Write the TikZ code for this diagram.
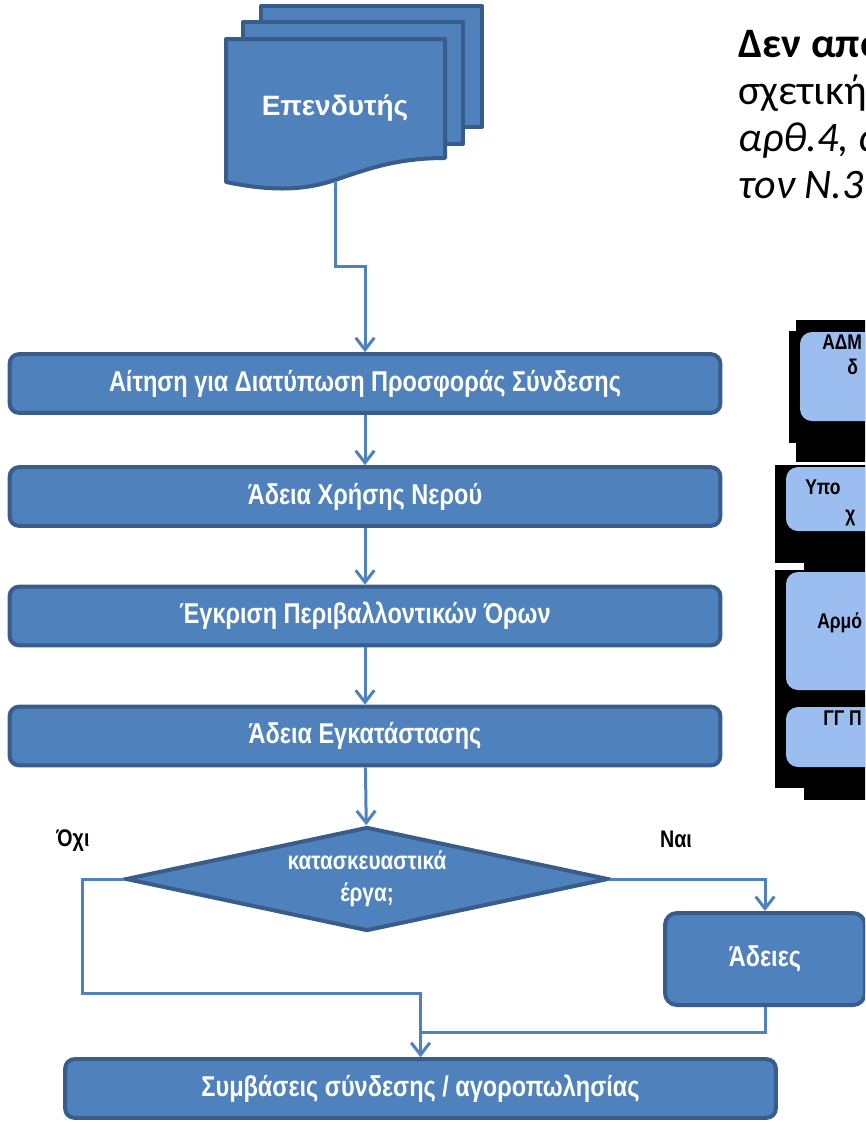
\documentclass[tikz,border=0pt]{standalone}
\usepackage{fontspec}
\setmainfont{Liberation Sans}
\newfontfamily\narrowfont[FakeStretch=0.82]{Liberation Sans}
\newfontfamily\notefont{Carlito}
\usetikzlibrary{shapes.geometric,arrows.meta}
\definecolor{flowblue}{RGB}{79,129,189}
\definecolor{flowedge}{RGB}{56,93,138}
\definecolor{panelblue}{RGB}{155,189,240}
\tikzset{
  stepbox/.style={draw=flowedge,fill=flowblue,line width=3pt,rounded corners=7pt,text=white,
    font=\narrowfont\bfseries\fontsize{21.5}{25}\selectfont,minimum width=533pt,minimum height=44pt,inner sep=0pt},
  decbox/.style={diamond,shape aspect=4.6,draw=flowedge,fill=flowblue,line width=3pt,text=white,align=center,
    font=\narrowfont\bfseries\fontsize{19}{24}\selectfont,minimum width=362pt,minimum height=78pt,inner sep=0pt},
  sheet/.style={draw=flowedge,fill=flowblue,line width=3pt,line join=round},
  flow/.style={draw=flowblue,line width=2.25pt,-{Straight Barb[length=9pt,width=14pt]}},
  flowline/.style={draw=flowblue,line width=2.25pt},
  answer/.style={font=\narrowfont\bfseries\fontsize{18}{21}\selectfont},
  paneltext/.style={anchor=base west,inner sep=0pt,font=\narrowfont\bfseries\fontsize{16}{19}\selectfont},
  notetext/.style={anchor=base west,inner sep=0pt,font=\notefont\fontsize{31.5}{38}\selectfont}
}
\begin{document}
\begin{tikzpicture}[x=0.75pt,y=-0.75pt]
\useasboundingbox (0,0) rectangle (865,1122);
\clip (0,0) rectangle (865,1122);
\draw[sheet] (261,6) rectangle (482,127);
\draw[sheet] (243,22) rectangle (463,144);
\draw[sheet] (226,39) -- (445,39) -- (445,158) .. controls (395,158) and (365,170) .. (335,180)
  .. controls (300,192) and (265,190) .. (226,182) -- cycle;
\node[text=white,font=\bfseries\fontsize{21}{25}\selectfont] (inv) at (335,108) {Επενδυτής};
\coordinate (invout) at (335,181);
\node[stepbox] (req) at (365,383.5) {Αίτηση για Διατύπωση Προσφοράς Σύνδεσης};
\node[stepbox] (water) at (365,496.5) {Άδεια Χρήσης Νερού};
\node[stepbox] (env) at (365,616) {Έγκριση Περιβαλλοντικών Όρων};
\node[stepbox] (inst) at (365,736) {Άδεια Εγκατάστασης};
\node[decbox] (dec) at (367,879) {κατασκευαστικά\\έργα;};
\node[stepbox,minimum width=150pt,minimum height=69pt,rounded corners=9pt] (permits) at (765,959) {Άδειες};
\node[stepbox] (contract) at (420.5,1088.5) {Συμβάσεις σύνδεσης / αγοροπωλησίας};
\node[answer] (no) at (73,841) {Όχι};
\node[answer] (yes) at (676,839) {Ναι};
\draw[flow] (invout) -- (335,266) -| (req.north);
\draw[flow] (req) -- (water);
\draw[flow] (water) -- (env);
\draw[flow] (env) -- (inst);
\draw[flow] (inst) -- (dec);
\draw[flow] (dec.east) -| (permits.north);
\draw[flow] (dec.west) -| (82,993) -| (contract.north);
\draw[flowline] (permits.south) |- (contract.north |- 0,1032);
\fill[black] (796,320) rectangle (870,462);
\fill[black] (789,331) rectangle (800,443);
\fill[black] (775,465) rectangle (804,563);
\fill[black] (804,465) rectangle (870,800);
\fill[black] (775,570) rectangle (804,788);
\fill[panelblue,rounded corners=9pt] (800,332) rectangle (890,421);
\fill[panelblue,rounded corners=9pt] (786,467) rectangle (890,531);
\fill[panelblue,rounded corners=9pt] (786,572) rectangle (890,690);
\fill[panelblue,rounded corners=9pt] (786,707) rectangle (890,767);
\node[paneltext] (adm) at (822,349) {ΑΔΜ};
\node[paneltext] (admb) at (847,374) {δ};
\node[paneltext] (ypo) at (805,494) {Υπο};
\node[paneltext] (ypob) at (845,521) {χ};
\node[paneltext] (armo) at (817,628) {Αρμό};
\node[paneltext] (gg) at (823,725) {ΓΓ Π};
\node[notetext,font=\notefont\bfseries\fontsize{31.5}{38}\selectfont] (note1) at (738,57) {Δεν απο};
\node[notetext] (note2) at (738,104) {σχετική};
\node[notetext,font=\notefont\itshape\fontsize{31.5}{38}\selectfont] (note3) at (738,151) {αρθ.4, α};
\node[notetext,font=\notefont\itshape\fontsize{31.5}{38}\selectfont] (note4) at (738,198) {τον Ν.3};
\end{tikzpicture}
\end{document}
